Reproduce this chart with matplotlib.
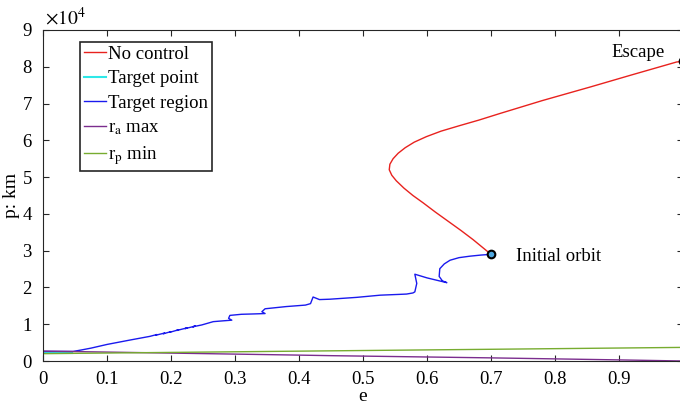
"""Orbit element trajectories in the (e, p) plane: out.png."""

import matplotlib
matplotlib.use("Agg")
import matplotlib.pyplot as plt
import matplotlib.ticker as ticker

plt.rcParams["font.family"] = ["Liberation Serif", "DejaVu Serif"]
plt.rcParams["mathtext.fontset"] = "stix"

# No control (red): initial orbit -> escape
nc_e = [0.700, 0.686, 0.672, 0.653, 0.633, 0.613, 0.594, 0.578, 0.564, 0.552,
        0.545, 0.541, 0.542, 0.547, 0.555, 0.566, 0.580, 0.599, 0.622, 0.651,
        0.681, 0.714, 0.780, 0.855, 0.920, 0.990, 1.000]
nc_p = [29000, 31000, 33000, 35500, 38000, 40500, 43000, 45000, 47000, 49000,
        50500, 52000, 53500, 55000, 56500, 58000, 59500, 61000, 62500, 64000,
        65500, 67300, 70800, 74500, 77800, 81300, 81500]

# Target region (blue)
tr_e = [0.000, 0.030, 0.047, 0.060, 0.075, 0.100, 0.136, 0.167, 0.178, 0.176,
        0.190, 0.188, 0.200, 0.198, 0.212, 0.209, 0.225, 0.222, 0.238, 0.234,
        0.248, 0.256, 0.262, 0.266, 0.280, 0.295, 0.290, 0.292, 0.310, 0.330,
        0.347, 0.342, 0.347, 0.380, 0.410, 0.418, 0.422, 0.432, 0.448, 0.490,
        0.527, 0.555, 0.568, 0.578, 0.581, 0.584, 0.581, 0.600, 0.631, 0.624,
        0.619, 0.620, 0.627, 0.636, 0.650, 0.667, 0.684, 0.700]
tr_p = [2600, 2600, 2600, 3000, 3500, 4500, 5700, 6700, 7200, 7000,
        7600, 7400, 8000, 7800, 8500, 8300, 9000, 8800, 9500, 9300,
        9800, 10200, 10500, 10700, 10900, 11100, 11600, 12400, 12700, 12800,
        12900, 13400, 14200, 14800, 15200, 15600, 17400, 16700, 16800, 17300,
        17900, 18100, 18200, 18500, 18800, 21100, 23600, 22600, 21300, 21800,
        23000, 25100, 26400, 27400, 28100, 28500, 28800, 29000]

# Target point (cyan)
tp_e = [0.000, 0.045]
tp_p = [2300, 2300]

# r_a max (purple) and r_p min (green)
ra_e = [0.0, 0.2, 0.4, 0.45, 0.7, 0.9, 1.0]
ra_p = [2700, 2150, 1600, 1450, 850, 300, 0]
rp_e = [0.0, 0.25, 0.5, 0.75, 1.0]
rp_p = [2000, 2420, 2850, 3270, 3700]

# Marked orbits
pt_e = [0.700, 1.000]
pt_p = [29000, 81500]

RED = "#e8221e"
CYAN = "#2ee8e8"
BLUE = "#1a1aee"
PURPLE = "#7b2d8e"
GREEN = "#77ac30"

fig = plt.figure(figsize=(6.8, 4.09), dpi=100)
ax = fig.add_axes([43 / 680, 1 - 361 / 409, 640 / 680, 331 / 409])

ax.plot(nc_e, nc_p, color=RED, lw=1.0, label="No control")
ax.plot(tp_e, tp_p, color=CYAN, lw=1.5, label="Target point")
ax.plot(tr_e, tr_p, color=BLUE, lw=1.0, label="Target region")
ax.plot(ra_e, ra_p, color=PURPLE, lw=1.0, label=r"r$_{\rm a}$ max")
ax.plot(rp_e, rp_p, color=GREEN, lw=1.0, label=r"r$_{\rm p}$ min")
ax.plot(pt_e, pt_p, "o", ms=5.5, mfc="#4fa8e0", mec="black", mew=1.5,
        zorder=5, clip_on=False)

ax.text(0.739, 28300, "Initial orbit", fontsize=13.5, va="center", ha="left")
ax.text(0.972, 84000, "Escape", fontsize=13.5, va="center", ha="right")

ax.set_xlim(0, 1)
ax.set_ylim(0, 90000)
ax.xaxis.set_major_locator(ticker.MultipleLocator(0.1))
ax.xaxis.set_major_formatter(ticker.FuncFormatter(
    lambda v, _: "0" if abs(v) < 1e-9 else ("1" if abs(v - 1) < 1e-9 else f"{v:.1f}")))
ax.yaxis.set_major_locator(ticker.MultipleLocator(10000))
ax.yaxis.set_major_formatter(ticker.FuncFormatter(lambda v, _: f"{v / 1e4:.0f}"))
ax.tick_params(direction="in", top=True, right=True, labelsize=13.5,
               length=4, color="#262626")
ax.tick_params(axis="x", pad=7)
ax.tick_params(axis="y", pad=8)
for s in ax.spines.values():
    s.set_color("#262626")
ax.text(0.003, 1.005, r"$\times10^4$", transform=ax.transAxes, fontsize=14,
        ha="left", va="bottom")

ax.set_xlabel("e", fontsize=14, labelpad=0)
ax.set_ylabel("p: km", fontsize=14, labelpad=2)

leg = ax.legend(loc="upper left", bbox_to_anchor=(0.058, 0.964), fontsize=13.5,
                handlelength=1.2, handletextpad=0.1, labelspacing=0.39,
                borderpad=0.2, borderaxespad=0, fancybox=False, framealpha=1)
leg.get_frame().set_edgecolor("#262626")
leg.get_frame().set_linewidth(1.2)

fig.savefig("out.png", dpi=100)
